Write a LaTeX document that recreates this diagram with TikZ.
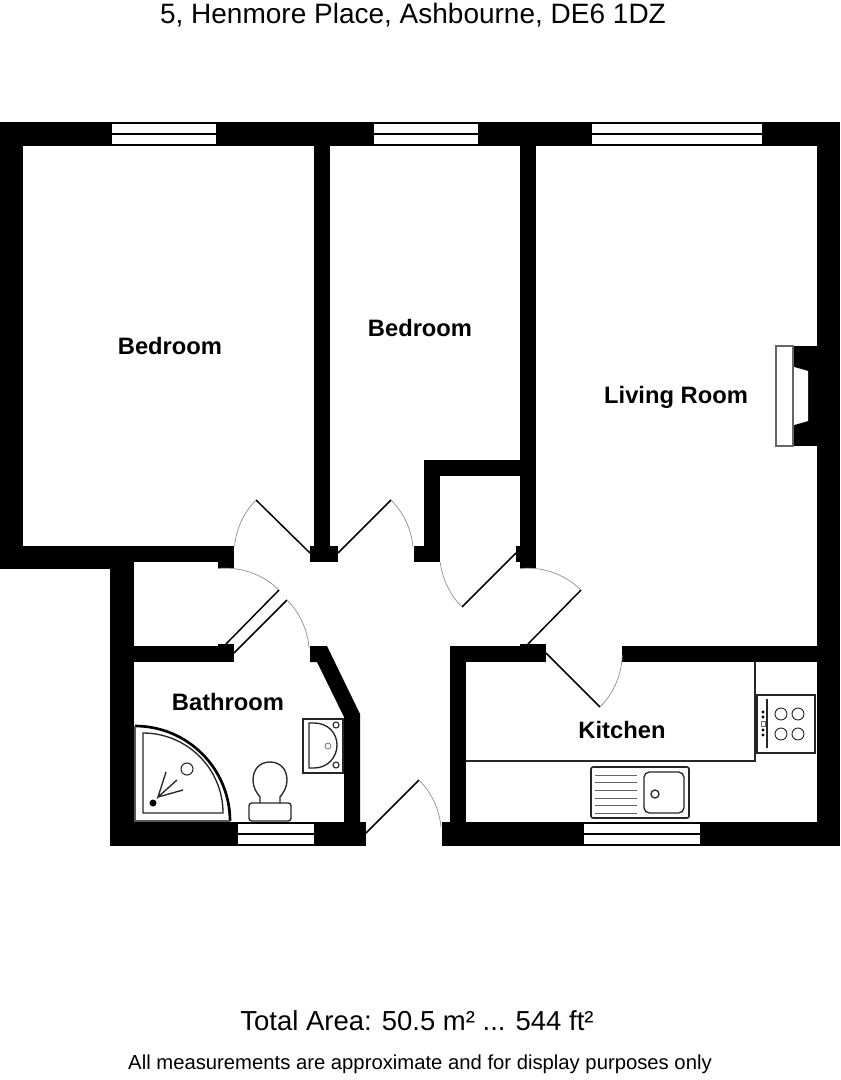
\documentclass[tikz,border=0pt]{standalone}
\usepackage{fontspec}
\setmainfont{Liberation Sans}
\tikzset{
  wall/.style={fill=black},
  pane/.style={fill=white},
  leaf/.style={draw=black,line width=1.1pt},
  swing/.style={draw=black!45,line width=0.5pt},
  fitting/.style={draw=black!85,line width=1pt},
  roomlabel/.style={font=\bfseries\fontsize{17.8}{20}\selectfont,inner sep=0pt},
  titlelabel/.style={inner sep=0pt}
}
\begin{document}
\begin{tikzpicture}[x=0.75pt,y=0.75pt,yscale=-1,xscale=1]
\useasboundingbox[fill=white] (0,0) rectangle (840,1080);

%Outer walls
\fill[wall] (0,122) rectangle (840,146);
\fill[wall] (0,122) rectangle (23,569);
\fill[wall] (817,122) rectangle (840,846);
\fill[wall] (0,546) rectangle (134,569);
\fill[wall] (110,546) rectangle (134,846);
\fill[wall] (110,822) rectangle (366,846);
\fill[wall] (442,822) rectangle (840,846);
%Inner walls
\fill[wall] (134,546) rectangle (234,562);
\fill[wall] (218,562) rectangle (234,568);
\fill[wall] (134,646) rectangle (234,662);
\fill[wall] (218,644) rectangle (234,646);
\fill[wall] (314,146) rectangle (330,562);
\fill[wall] (310,546) rectangle (338,562);
\fill[wall] (520,146) rectangle (536,568);
\fill[wall] (516,546) rectangle (520,562);
\fill[wall] (424,460) rectangle (520,476);
\fill[wall] (424,460) rectangle (440,562);
\fill[wall] (414,546) rectangle (424,562);
\fill[wall] (310,646) -- (327,646) -- (360,714) -- (360,822) -- (344,822) -- (344,717) -- (317,662) -- (310,662) -- cycle;
\fill[wall] (450,646) rectangle (466,822);
\fill[wall] (450,646) rectangle (546,662);
\fill[wall] (520,644) rectangle (546,646);
\fill[wall] (622,646) rectangle (817,662);

%Windows
\fill[pane] (112,124) rectangle (216,133);
\fill[pane] (112,135) rectangle (216,144);
\fill[pane] (374,124) rectangle (478,133);
\fill[pane] (374,135) rectangle (478,144);
\fill[pane] (592,124) rectangle (762,133);
\fill[pane] (592,135) rectangle (762,144);
\fill[pane] (238,824) rectangle (314,833);
\fill[pane] (238,835) rectangle (314,844);
\fill[pane] (584,824) rectangle (700,833);
\fill[pane] (584,835) rectangle (700,844);

%Doors
\draw[leaf] (310,553) -- (256,500);
\draw[swing] (256,500) arc[start angle=224.5,end angle=185.3,radius=76];
\draw[leaf] (338,553) -- (391,500);
\draw[swing] (391,500) arc[start angle=-45,end angle=-5.3,radius=76];
\draw[leaf] (516,553) -- (462,607);
\draw[swing] (462,607) arc[start angle=135,end angle=173,radius=76];
\draw[leaf] (528,644) -- (581,590);
\draw[swing] (581,590) arc[start angle=-45.5,end angle=-96,radius=76];
\draw[leaf] (546,653) -- (600,707);
\draw[swing] (600,707) arc[start angle=45,end angle=1.5,radius=76];
\draw[leaf] (226,644) -- (279,590);
\draw[swing] (279,590) arc[start angle=-45.5,end angle=-96,radius=76];
\draw[leaf] (234,653) -- (287,600);
\draw[swing] (287,600) arc[start angle=-45,end angle=-4,radius=76];
\draw[leaf] (366,833) -- (419,780);
\draw[swing] (419,780) arc[start angle=-45,end angle=-5,radius=76];

%Fireplace
\fill[wall] (793,346) rectangle (817,446);
\draw[draw=black!60,line width=0.9pt] (793,346) -- (776,346) -- (776,446) -- (793,446) -- cycle;
\fill[pane] (794,367) -- (808,371) -- (808,421) -- (794,425) -- cycle;

%Kitchen units
\draw[fitting] (466,761) -- (755,761) -- (755,662);
%Hob
\draw[fitting,line width=1.3pt] (757,695) rectangle (815,753);
\draw[fitting] (767,699) -- (767,748);
\draw[fitting,line width=0.7pt] (781,714) circle (6);
\draw[fitting,line width=0.7pt] (798,714) circle (6);
\draw[fitting,line width=0.7pt] (781,734) circle (6);
\draw[fitting,line width=0.7pt] (798,734) circle (6);
\fill[black] (763,712) circle (1.6);
\fill[black] (763,717) circle (1.6);
\fill[black] (763,730) circle (1.6);
\fill[black] (763,735) circle (1.6);
\draw[draw=black!60,line width=0.4pt] (761,721) rectangle (765,726);
%Sink
\draw[fitting,line width=1.2pt,rounded corners=1.5pt] (591,767) rectangle (689,818);
\draw[fitting,rounded corners=4pt] (644,772) rectangle (684,813);
\draw[fitting] (655,794) circle (4);
\draw[draw=black!60,line width=0.7pt] (595,775) -- (637,775);
\draw[draw=black!60,line width=0.7pt] (595,782) -- (637,782);
\draw[draw=black!60,line width=0.7pt] (595,790) -- (637,790);
\draw[draw=black!60,line width=0.7pt] (595,798) -- (637,798);
\draw[draw=black!60,line width=0.7pt] (595,805) -- (637,805);
\draw[draw=black!60,line width=0.7pt] (595,813) -- (637,813);

%Shower
\draw[draw=black,line width=2pt] (135,726) arc[start angle=-90,end angle=0,radius=95];
\draw[draw=black!65,line width=1pt] (135,726) -- (135,821) -- (230,821);
\draw[fitting] (143,733) arc[start angle=-90,end angle=0,radius=80] -- (143,813) -- cycle;
\fill[black] (153,803) circle (3.5);
\draw[fitting,line width=0.8pt] (187,769) circle (6);
\draw[fitting] (166,772) -- (158,797) -- (177,780);
\draw[fitting] (158,797) -- (183,790);

%Toilet
\draw[fitting,rounded corners=2pt] (249,803) rectangle (291,821);
\draw[fitting] (260,803) -- (260,797) .. controls (256,792) and (253,787) .. (253,780) .. controls (253,769) and (260,762) .. (270,762) .. controls (280,762) and (287,769) .. (287,780) .. controls (287,787) and (284,792) .. (280,797) -- (280,803);

%Basin
\draw[fitting,line width=1.3pt] (303,719) rectangle (343,773);
\draw[fitting] (309,723) -- (309,768) -- (314,768) .. controls (328,768) and (337,757) .. (337,745) .. controls (337,733) and (328,723) .. (314,723) -- cycle;
\draw[fitting,line width=0.8pt] (336,725) circle (3);
\draw[fitting,line width=0.8pt] (336,765) circle (3);
\draw[draw=black!55,line width=0.6pt] (328,746) circle (3);

%Text
\node[titlelabel,font=\fontsize{21}{24}\selectfont] (title) at (413,15) {5, Henmore Place, Ashbourne, DE6 1DZ};
\node[roomlabel] (bedroomA) at (170,346) {Bedroom};
\node[roomlabel] (bedroomB) at (420,328) {Bedroom};
\node[roomlabel] (living) at (676,397) {Living Room};
\node[roomlabel] (bathroom) at (228,702) {Bathroom};
\node[roomlabel] (kitchen) at (622,730) {Kitchen};
\node[titlelabel,font=\fontsize{20.6}{24}\selectfont] (total) at (417,1021) {Total Area: 50.5 m² ... 544 ft²};
\node[titlelabel,font=\fontsize{15.2}{18}\selectfont] (note) at (420,1064) {All measurements are approximate and for display purposes only};

\end{tikzpicture}
\end{document}
